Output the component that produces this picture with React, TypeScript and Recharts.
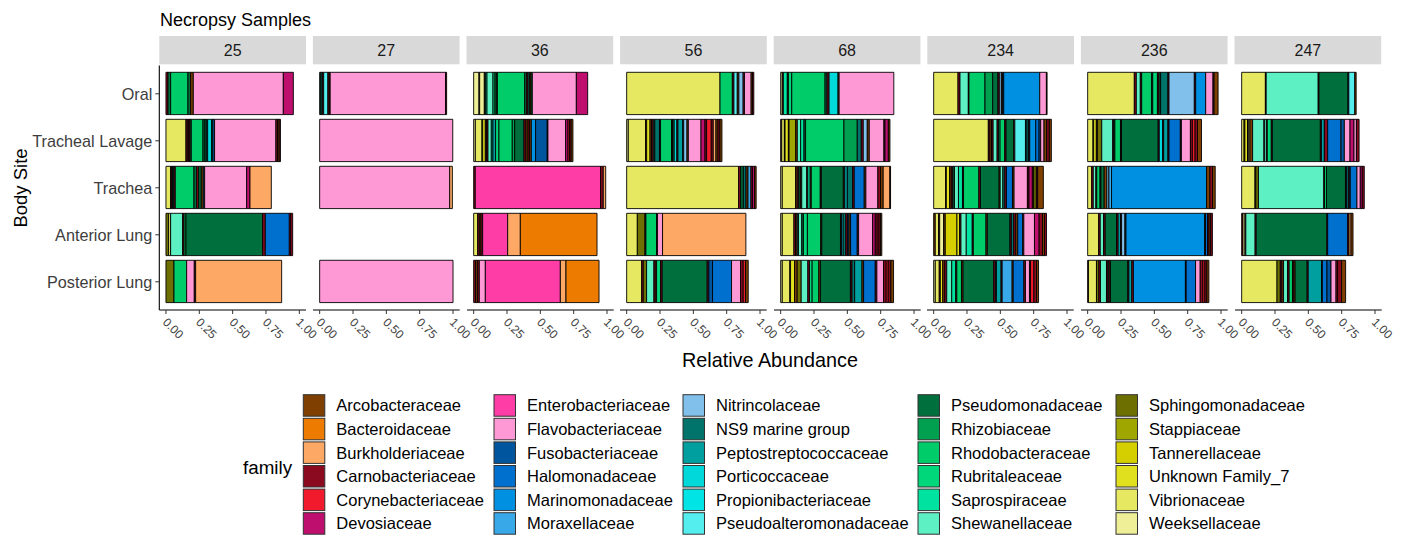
import React from "react";
import { BarChart, Bar, XAxis, YAxis, Cell } from "recharts";

const FONT = "'Liberation Sans', Arial, Helvetica, sans-serif";

const families = [
  "Arcobacteraceae", "Bacteroidaceae", "Burkholderiaceae", "Carnobacteriaceae", "Corynebacteriaceae", "Devosiaceae",
  "Enterobacteriaceae", "Flavobacteriaceae", "Fusobacteriaceae", "Halomonadaceae", "Marinomonadaceae", "Moraxellaceae",
  "Nitrincolaceae", "NS9 marine group", "Peptostreptococcaceae", "Porticoccaceae", "Propionibacteriaceae", "Pseudoalteromonadaceae",
  "Pseudomonadaceae", "Rhizobiaceae", "Rhodobacteraceae", "Rubritaleaceae", "Saprospiraceae", "Shewanellaceae",
  "Sphingomonadaceae", "Stappiaceae", "Tannerellaceae", "Unknown Family_7", "Vibrionaceae", "Weeksellaceae",
];
const familyCodes = [
  "Arc", "Bac", "Bur", "Car", "Cor", "Dev",
  "Ent", "Fla", "Fus", "Hal", "Mar", "Mor",
  "Nit", "NS9", "Pep", "Por", "Pro", "Psa",
  "Psm", "Rhi", "Rho", "Rub", "Sap", "She",
  "Sph", "Sta", "Tan", "Unk", "Vib", "Wee",
];
const familyColors = [
  "#7F3F00", "#EC7B00", "#FDA864", "#8B0A20", "#F01A2C", "#BE0E6E",
  "#FF3DA6", "#FF99D5", "#00569E", "#0070CF", "#0090E2", "#38A8E8",
  "#80C0EA", "#00736A", "#009F9F", "#00D8DA", "#00E4E6", "#55EEEE",
  "#006F3E", "#00A050", "#00CC6A", "#00D67A", "#00E3A0", "#5CF0C2",
  "#6D6F00", "#A0A600", "#D5CF00", "#E0E01E", "#E6E862", "#EEEF96",
];

const bodySites = ["Oral", "Tracheal Lavage", "Trachea", "Anterior Lung", "Posterior Lung"];
const samples = ["25", "27", "36", "56", "68", "234", "236", "247"];
const xTicks = [0, 0.25, 0.5, 0.75, 1];

type Seg = [string, number];

// each sample: [Oral, Tracheal Lavage, Trachea, Anterior Lung, Posterior Lung]
const s25: Seg[][] = [
  [["Car", 0.015], ["Psm", 0.02], ["Rho", 0.13], ["Psm", 0.02], ["Arc", 0.02], ["Fla", 0.675], ["Dev", 0.075]],
  [["Vib", 0.15], ["Car", 0.01], ["Arc", 0.01], ["Car", 0.01], ["Psm", 0.01], ["Rho", 0.0875], ["Psm", 0.015], ["Rhi", 0.01], ["NS9", 0.01], ["Por", 0.03], ["NS9", 0.01], ["Hal", 0.012], ["Fla", 0.46], ["Car", 0.012], ["Arc", 0.012], ["Car", 0.01]],
  [["Vib", 0.035], ["Sph", 0.005], ["Car", 0.01], ["Psm", 0.01], ["Car", 0.01], ["Rho", 0.14], ["Psm", 0.02], ["Car", 0.015], ["Psm", 0.02], ["Arc", 0.015], ["Hal", 0.01], ["Fla", 0.315], ["Dev", 0.025], ["Bur", 0.16]],
  [["Sph", 0.02], ["Vib", 0.015], ["She", 0.09], ["Car", 0.01], ["Rhi", 0.015], ["Psm", 0.575], ["Car", 0.02], ["Hal", 0.18], ["Dev", 0.01], ["Car", 0.015]],
  [["Sph", 0.06], ["Rho", 0.095], ["Fla", 0.0575], ["Car", 0.01], ["Bur", 0.645]],
];
const s27: Seg[][] = [
  [["Psm", 0.01], ["NS9", 0.01], ["Car", 0.01], ["Psa", 0.032], ["Car", 0.01], ["Arc", 0.007], ["Fla", 0.865], ["Car", 0.008]],
  [["Fla", 0.998]],
  [["Fla", 0.975], ["Bur", 0.02]],
  [],
  [["Fla", 1.0]],
];
const s36: Seg[][] = [
  [["Wee", 0.04], ["Car", 0.005], ["Wee", 0.035], ["Arc", 0.008], ["Sap", 0.012], ["She", 0.045], ["Rub", 0.015], ["Rhi", 0.01], ["Psm", 0.008], ["Rho", 0.205], ["Psm", 0.015], ["Car", 0.01], ["NS9", 0.012], ["Arc", 0.01], ["Psm", 0.01], ["Fla", 0.33], ["Dev", 0.085]],
  [["Wee", 0.0125], ["Vib", 0.05], ["Car", 0.005], ["Unk", 0.02], ["Arc", 0.01], ["Car", 0.01], ["She", 0.025], ["Sap", 0.012], ["Pep", 0.02], ["Rub", 0.025], ["Rho", 0.1], ["Rhi", 0.018], ["Psm", 0.07], ["Car", 0.015], ["Arc", 0.015], ["Car", 0.012], ["Arc", 0.013], ["Mar", 0.032], ["Fus", 0.0875], ["Car", 0.005], ["Fla", 0.1325], ["Dev", 0.018], ["Cor", 0.012], ["Car", 0.012], ["Arc", 0.013]],
  [["Car", 0.012], ["Ent", 0.94], ["Car", 0.02], ["Bur", 0.018]],
  [["Vib", 0.03], ["Car", 0.0125], ["Arc", 0.0125], ["Car", 0.0125], ["Ent", 0.1875], ["Bur", 0.095], ["Bac", 0.575]],
  [["Car", 0.014], ["Arc", 0.014], ["Car", 0.0145], ["Fla", 0.045], ["Ent", 0.5625], ["Bur", 0.0425], ["Bac", 0.2475]],
];
const s56: Seg[][] = [
  [["Vib", 0.7], ["Rho", 0.0925], ["Car", 0.012], ["Psa", 0.025], ["Arc", 0.012], ["Nit", 0.032], ["Car", 0.01], ["Fla", 0.05], ["Arc", 0.01], ["Car", 0.01]],
  [["Wee", 0.012], ["Vib", 0.13], ["Car", 0.008], ["Unk", 0.025], ["Arc", 0.012], ["Car", 0.012], ["Psm", 0.012], ["NS9", 0.035], ["Car", 0.008], ["Rho", 0.0825], ["Car", 0.008], ["Psm", 0.012], ["Por", 0.02], ["Car", 0.008], ["Pep", 0.035], ["NS9", 0.008], ["Nit", 0.025], ["Arc", 0.01], ["Fla", 0.095], ["Dev", 0.03], ["Car", 0.012], ["Cor", 0.035], ["Car", 0.015], ["Bur", 0.02], ["Arc", 0.015], ["Car", 0.015], ["Arc", 0.015]],
  [["Vib", 0.84], ["Car", 0.015], ["Psm", 0.02], ["NS9", 0.02], ["Arc", 0.015], ["Mor", 0.022], ["Car", 0.012], ["Dev", 0.015], ["Arc", 0.012]],
  [["Vib", 0.08], ["Sph", 0.0575], ["Car", 0.007], ["Rho", 0.08], ["Car", 0.007], ["Fla", 0.0375], ["Bur", 0.625]],
  [["Vib", 0.1125], ["Car", 0.012], ["Sph", 0.025], ["She", 0.055], ["Car", 0.01], ["Arc", 0.01], ["Rub", 0.03], ["Car", 0.012], ["Psm", 0.3375], ["Car", 0.012], ["Fus", 0.028], ["Hal", 0.1425], ["Fla", 0.0675], ["Car", 0.02], ["Cor", 0.0175], ["Arc", 0.02]],
];
const s68: Seg[][] = [
  [["Wee", 0.012], ["Car", 0.008], ["Sap", 0.03], ["Psm", 0.008], ["Rub", 0.025], ["Rho", 0.25], ["Psm", 0.015], ["Car", 0.015], ["Por", 0.0675], ["Arc", 0.008], ["Fla", 0.41]],
  [["Car", 0.008], ["Vib", 0.02], ["Arc", 0.005], ["Unk", 0.025], ["Car", 0.005], ["Sta", 0.05], ["Arc", 0.012], ["She", 0.025], ["Sap", 0.025], ["Psm", 0.012], ["Rho", 0.2875], ["Rhi", 0.1], ["NS9", 0.03], ["Car", 0.015], ["Nit", 0.03], ["Arc", 0.015], ["Fla", 0.11], ["Car", 0.008], ["Dev", 0.025], ["Arc", 0.012]],
  [["Wee", 0.012], ["Vib", 0.1], ["Arc", 0.012], ["Car", 0.012], ["Psm", 0.012], ["Arc", 0.01], ["She", 0.0375], ["Car", 0.008], ["Sap", 0.018], ["Arc", 0.008], ["Rho", 0.0675], ["Car", 0.008], ["Psm", 0.165], ["Arc", 0.01], ["Pep", 0.02], ["NS9", 0.04], ["Car", 0.012], ["Hal", 0.075], ["Arc", 0.012], ["Fla", 0.09], ["Car", 0.02], ["Arc", 0.02], ["Bur", 0.05], ["Arc", 0.005]],
  [["Wee", 0.012], ["Vib", 0.0875], ["Car", 0.012], ["Arc", 0.012], ["NS9", 0.01], ["She", 0.025], ["Psm", 0.012], ["Rub", 0.03], ["Rho", 0.1], ["Arc", 0.008], ["Psm", 0.14], ["Car", 0.008], ["Por", 0.012], ["NS9", 0.02], ["Car", 0.012], ["Fus", 0.012], ["Arc", 0.012], ["Hal", 0.05], ["Car", 0.01], ["Fla", 0.105], ["Dev", 0.02], ["Car", 0.015], ["Cor", 0.012], ["Car", 0.012], ["Arc", 0.01]],
  [["Wee", 0.012], ["Vib", 0.057], ["Car", 0.005], ["Unk", 0.03], ["Arc", 0.02], ["Sph", 0.03], ["She", 0.05], ["Car", 0.012], ["Rub", 0.02], ["Rho", 0.05], ["Arc", 0.012], ["Psm", 0.225], ["Car", 0.012], ["NS9", 0.02], ["Pep", 0.055], ["Arc", 0.012], ["Hal", 0.0875], ["Car", 0.012], ["Fla", 0.05], ["Car", 0.02], ["Cor", 0.015], ["Car", 0.02], ["Arc", 0.02]],
];
const s234: Seg[][] = [
  [["Vib", 0.1825], ["Car", 0.015], ["She", 0.0625], ["Car", 0.005], ["Rho", 0.12], ["Rhi", 0.0575], ["Psm", 0.04], ["Car", 0.01], ["Nit", 0.015], ["Arc", 0.01], ["Fus", 0.008], ["Mar", 0.27], ["Fla", 0.05], ["Arc", 0.005]],
  [["Vib", 0.41], ["Car", 0.012], ["Arc", 0.012], ["Car", 0.012], ["She", 0.03], ["Car", 0.01], ["Rub", 0.012], ["Rho", 0.035], ["Car", 0.01], ["Psm", 0.0575], ["Arc", 0.008], ["Psa", 0.08], ["NS9", 0.012], ["Pep", 0.012], ["Car", 0.008], ["Mar", 0.045], ["Hal", 0.025], ["Fus", 0.012], ["Fla", 0.025], ["Arc", 0.02], ["Car", 0.02], ["Arc", 0.015]],
  [["Vib", 0.09], ["Car", 0.005], ["Unk", 0.025], ["Arc", 0.012], ["Car", 0.012], ["Psm", 0.012], ["She", 0.03], ["Sap", 0.03], ["Car", 0.008], ["Rho", 0.115], ["Car", 0.012], ["Psm", 0.14], ["Arc", 0.008], ["She", 0.02], ["NS9", 0.015], ["Car", 0.012], ["Hal", 0.045], ["Arc", 0.012], ["Fla", 0.1], ["Car", 0.012], ["Dev", 0.025], ["Car", 0.01], ["Sph", 0.02], ["Car", 0.01], ["Arc", 0.0425]],
  [["Arc", 0.012], ["Vib", 0.025], ["Car", 0.008], ["Wee", 0.03], ["Arc", 0.012], ["Tan", 0.0875], ["Unk", 0.02], ["Car", 0.01], ["She", 0.04], ["Sap", 0.045], ["Car", 0.008], ["Rho", 0.095], ["Arc", 0.01], ["Psm", 0.17], ["Car", 0.01], ["NS9", 0.018], ["Car", 0.015], ["Arc", 0.015], ["Hal", 0.0375], ["Car", 0.008], ["Fla", 0.08], ["Dev", 0.035], ["Car", 0.025], ["Arc", 0.015], ["Car", 0.015]],
  [["Wee", 0.012], ["Vib", 0.03], ["Car", 0.008], ["Unk", 0.018], ["Arc", 0.015], ["Car", 0.015], ["She", 0.0375], ["Sap", 0.03], ["Car", 0.008], ["Rho", 0.035], ["Arc", 0.012], ["Psm", 0.23], ["Car", 0.012], ["NS9", 0.008], ["Pep", 0.035], ["Car", 0.008], ["Mor", 0.075], ["Arc", 0.008], ["Hal", 0.08], ["Car", 0.012], ["Fla", 0.03], ["Car", 0.008], ["Cor", 0.025], ["Car", 0.02], ["Arc", 0.015]],
];
const s236: Seg[][] = [
  [["Vib", 0.35], ["Car", 0.015], ["She", 0.03], ["Car", 0.01], ["Rho", 0.075], ["Psm", 0.008], ["Rub", 0.035], ["Car", 0.012], ["Psm", 0.012], ["NS9", 0.055], ["Car", 0.008], ["Nit", 0.19], ["Car", 0.01], ["Mar", 0.075], ["Fla", 0.055], ["Car", 0.008], ["Arc", 0.03]],
  [["Vib", 0.04], ["Car", 0.005], ["Unk", 0.02], ["Car", 0.008], ["Sph", 0.0325], ["She", 0.0825], ["Car", 0.008], ["Psm", 0.008], ["Rho", 0.042], ["Car", 0.008], ["Psm", 0.275], ["Car", 0.008], ["Por", 0.025], ["Car", 0.008], ["Pep", 0.032], ["Car", 0.008], ["Hal", 0.085], ["Car", 0.008], ["Fla", 0.0675], ["Car", 0.015], ["Cor", 0.02], ["Car", 0.018], ["Arc", 0.03]],
  [["Vib", 0.03], ["Car", 0.012], ["She", 0.02], ["Car", 0.006], ["Rho", 0.025], ["Car", 0.006], ["Psm", 0.025], ["Arc", 0.02], ["Nit", 0.015], ["Mor", 0.02], ["Mar", 0.7125], ["Arc", 0.025], ["Car", 0.02], ["Arc", 0.02]],
  [["Vib", 0.0825], ["Car", 0.012], ["She", 0.025], ["Car", 0.012], ["Psm", 0.085], ["Car", 0.012], ["Pep", 0.018], ["Car", 0.008], ["Nit", 0.025], ["Fus", 0.008], ["Mar", 0.59], ["Car", 0.006], ["Hal", 0.015], ["Car", 0.012], ["Arc", 0.012], ["Car", 0.013]],
  [["Car", 0.006], ["Vib", 0.06], ["Sph", 0.018], ["Car", 0.012], ["She", 0.045], ["Car", 0.012], ["Psm", 0.008], ["Car", 0.01], ["Psm", 0.13], ["Car", 0.008], ["Pep", 0.022], ["Car", 0.012], ["Mar", 0.39], ["Car", 0.006], ["Hal", 0.07], ["Fla", 0.035], ["Car", 0.02], ["Cor", 0.015], ["Car", 0.015], ["Arc", 0.015]],
];
const s247: Seg[][] = [
  [["Vib", 0.178], ["Car", 0.006], ["She", 0.39], ["Car", 0.006], ["Psm", 0.2175], ["Car", 0.006], ["Psa", 0.045], ["Arc", 0.01]],
  [["Vib", 0.018], ["Car", 0.006], ["Unk", 0.02], ["Car", 0.006], ["Wee", 0.012], ["Arc", 0.02], ["She", 0.085], ["Car", 0.006], ["She", 0.015], ["Car", 0.004], ["Rub", 0.03], ["Car", 0.008], ["Psm", 0.36], ["Car", 0.008], ["Pep", 0.022], ["Car", 0.025], ["Hal", 0.1], ["Fus", 0.025], ["Fla", 0.0425], ["Dev", 0.03], ["Fla", 0.018], ["Car", 0.02]],
  [["Vib", 0.1], ["Car", 0.006], ["Sph", 0.02], ["She", 0.49], ["Car", 0.005], ["Rho", 0.015], ["Psm", 0.1425], ["Car", 0.008], ["Por", 0.012], ["Car", 0.008], ["Fus", 0.008], ["Hal", 0.05], ["Fla", 0.025], ["Dev", 0.015], ["Car", 0.015]],
  [["Car", 0.01], ["Wee", 0.015], ["Car", 0.006], ["She", 0.07], ["Car", 0.008], ["Psm", 0.53], ["Car", 0.006], ["Hal", 0.15], ["Car", 0.01], ["Bur", 0.015], ["Arc", 0.015]],
  [["Vib", 0.265], ["Sph", 0.025], ["Car", 0.012], ["Arc", 0.012], ["She", 0.03], ["Car", 0.012], ["Rho", 0.025], ["Car", 0.01], ["Arc", 0.01], ["Psm", 0.09], ["Car", 0.008], ["Pep", 0.1], ["Car", 0.006], ["Hal", 0.035], ["Fus", 0.03], ["Fla", 0.0375], ["Car", 0.012], ["Car", 0.03], ["Arc", 0.03]],
];
const sampleSegments = [s25, s27, s36, s56, s68, s234, s236, s247];

// ---- layout ----
const PANEL0 = 159.3;
const PANEL_STEP = 153.6;
const PW = 146.7;
const PANEL_TOP = 65.6;
const PANEL_BOTTOM = 310;
const CH = 390;
const XAXIS_H = 40;

const colorOf = (code?: string) => {
  const i = familyCodes.indexOf(code || "");
  return i >= 0 ? familyColors[i] : "transparent";
};

const XTick = (props: any) => {
  const { x, y, payload } = props;
  return (
    <text
      transform={`translate(${x - 4},${y + 7}) rotate(45)`}
      textAnchor="start"
      fontSize={12}
      fontFamily={FONT}
      fill="#444"
    >
      {Number(payload.value).toFixed(2)}
    </text>
  );
};

function Facet({ index, segs }: { index: number; segs: Seg[][] }) {
  const first = index === 0;
  const panelLeft = PANEL0 + PANEL_STEP * index;
  const ML = first ? 0 : 6;
  const MR = 34;
  const yW = first ? panelLeft : 0;
  const left = first ? 0 : panelLeft - ML;
  const width = (first ? panelLeft : ML) + PW + MR;
  const rows = bodySites.map((site, r) => {
    const row: any = { site };
    segs[r].forEach(([, v], k) => {
      row["s" + k] = v;
    });
    return row;
  });
  const maxK = Math.max(...segs.map((s) => s.length));
  return (
    <div style={{ position: "absolute", left, top: 0 }}>
      <BarChart
        width={width}
        height={CH}
        data={rows}
        layout="vertical"
        barSize={42.3}
        margin={{ top: PANEL_TOP, bottom: CH - PANEL_BOTTOM - XAXIS_H, left: ML, right: MR }}
      >
        <XAxis
          type="number"
          domain={[-0.05, 1.05]}
          ticks={xTicks}
          interval={0}
          allowDataOverflow
          height={XAXIS_H}
          tickSize={4}
          tickMargin={2}
          axisLine={{ stroke: "#000", strokeWidth: 1.1 }}
          tickLine={{ stroke: "#333", strokeWidth: 1 }}
          tick={<XTick />}
        />
        <YAxis
          type="category"
          dataKey="site"
          width={yW}
          hide={!first}
          padding={{ top: 4.7, bottom: 4.7 }}
          tickSize={4}
          tickMargin={3}
          axisLine={{ stroke: "#000", strokeWidth: 1.1 }}
          tickLine={{ stroke: "#333", strokeWidth: 1 }}
          tick={{ fontSize: 16.2, fill: "#3D3D3D", fontFamily: FONT }}
        />
        {Array.from({ length: maxK }, (_, k) => (
          <Bar key={k} dataKey={"s" + k} stackId="a" isAnimationActive={false} stroke="#000" strokeWidth={0.9}>
            {segs.map((s, r) => (
              <Cell key={r} fill={colorOf(s[k] ? s[k][0] : undefined)} />
            ))}
          </Bar>
        ))}
      </BarChart>
    </div>
  );
}

const LEG_COL_X = [303.3, 494, 683, 918, 1116];
const LEG_TOP = 394.7;
const LEG_STEP = 23.6;
const KEY = 21.5;

export default function App() {
  return (
    <div style={{ position: "absolute", left: 0, top: 0, width: 1404, height: 538, background: "#fff", fontFamily: FONT }}>
      <svg width={1404} height={538} style={{ position: "absolute", left: 0, top: 0 }}>
        <text x={160} y={20} dominantBaseline="central" fontSize={18} fill="#000" fontFamily={FONT}>
          Necropsy Samples
        </text>
        {samples.map((s, i) => {
          const pl = PANEL0 + PANEL_STEP * i;
          return (
            <g key={s}>
              <rect x={pl} y={36} width={PW} height={28.3} fill="#D9D9D9" />
              <text x={pl + PW / 2} y={50.5} textAnchor="middle" dominantBaseline="central" fontSize={16} fill="#1A1A1A" fontFamily={FONT}>
                {s}
              </text>
            </g>
          );
        })}
        <text transform="translate(20,188) rotate(-90)" textAnchor="middle" dominantBaseline="central" fontSize={18.5} fill="#000" fontFamily={FONT}>
          Body Site
        </text>
        <text x={770} y={360} textAnchor="middle" dominantBaseline="central" fontSize={19.8} fill="#000" fontFamily={FONT}>
          Relative Abundance
        </text>
        <text x={243} y={467} dominantBaseline="central" fontSize={18.8} fill="#000" fontFamily={FONT}>
          family
        </text>
        {families.map((f, i) => {
          const col = Math.floor(i / 6);
          const row = i % 6;
          const kx = LEG_COL_X[col];
          const ky = LEG_TOP + LEG_STEP * row;
          return (
            <g key={f}>
              <rect x={kx} y={ky} width={KEY} height={KEY} fill={familyColors[i]} stroke="#333" strokeWidth={1} />
              <text x={kx + 33} y={ky + KEY / 2} dominantBaseline="central" fontSize={16.5} fill="#000" fontFamily={FONT}>
                {f}
              </text>
            </g>
          );
        })}
      </svg>
      {sampleSegments.map((segs, i) => (
        <Facet key={i} index={i} segs={segs} />
      ))}
    </div>
  );
}
